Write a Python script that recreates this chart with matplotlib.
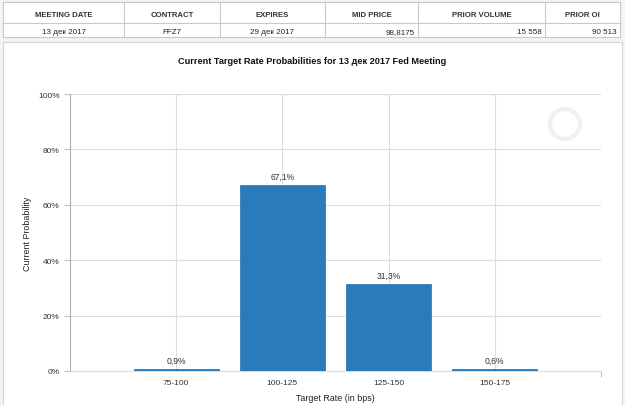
import matplotlib
matplotlib.use("Agg")
import matplotlib.pyplot as plt
from matplotlib.patches import Rectangle, Ellipse
from matplotlib.ticker import FuncFormatter

plt.rcParams['font.family'] = ['Liberation Sans', 'DejaVu Sans']

# table data
table_headers = ["MEETING DATE", "CONTRACT", "EXPIRES", "MID PRICE", "PRIOR VOLUME", "PRIOR OI"]
table_row = ["13 дек 2017", "FFZ7", "29 дек 2017", "98,8175", "15 558", "90 513"]

# chart data
rate_ranges = ["75-100", "100-125", "125-150", "150-175"]
probabilities = [0.9, 67.1, 31.3, 0.6]

W, H = 625, 406
fig = plt.figure(figsize=(W / 100, H / 100), dpi=100)
fig.patch.set_facecolor("#f3f3f3")

def fx(x):
    return x / W

def fy(y):
    return 1 - y / H

border = "#c9c9c9"

# table
col_edges = [3, 124, 220, 325, 418, 545, 620]
row_edges = [3, 24, 38]
fig.patches.append(Rectangle((fx(3), fy(38)), fx(617), 35 / H, transform=fig.transFigure,
                             facecolor="white", edgecolor="none", zorder=-2))
for y in row_edges:
    fig.add_artist(plt.Line2D([fx(3), fx(620)], [fy(y), fy(y)], color=border, lw=0.8))
for x in col_edges:
    fig.add_artist(plt.Line2D([fx(x), fx(x)], [fy(3), fy(38)], color=border, lw=0.8))
for i, h in enumerate(table_headers):
    cx = (col_edges[i] + col_edges[i + 1]) / 2
    fig.text(fx(cx), fy(17), h, ha="center", va="baseline", fontsize=5.6,
             color="#333333", fontweight="bold")
for i, v in enumerate(table_row):
    if i < 3:
        fig.text(fx((col_edges[i] + col_edges[i + 1]) / 2), fy(34), v, ha="center",
                 va="baseline", fontsize=5.8, color="#222222")
    else:
        fig.text(fx(col_edges[i + 1] - 3), fy(34), v, ha="right",
                 va="baseline", fontsize=5.8, color="#222222")

# chart panel
fig.patches.append(Rectangle((fx(3), -0.01), fx(619), fy(43) + 0.01, transform=fig.transFigure,
                             facecolor="white", edgecolor="#d6d6d6", lw=0.8, zorder=-2))

# faint watermark ring
fig.patches.append(Ellipse((fx(565), fy(125)), 30 / W, 30 / H, transform=fig.transFigure,
                           fill=False, edgecolor="#f0f0f0", lw=3, zorder=-1))

ax = fig.add_axes([fx(70), fy(372), fx(601) - fx(70), (372 - 95) / H])
ax.set_facecolor("none")
xs = list(range(len(rate_ranges)))
ax.bar(xs, probabilities, width=0.8, color="#2b7bba", edgecolor="#2670a8",
       lw=0.5, zorder=3)
for x, p in zip(xs, probabilities):
    ax.text(x, p + 1.5, f"{p:.1f}%".replace(".", ","), ha="center", va="bottom",
            fontsize=6.2, color="#333333", zorder=4)

ax.set_xlim(-1, 4)
ax.set_ylim(0, 100)
ax.set_xticks(xs)
ax.set_xticklabels(rate_ranges)
ax.set_xticks([4], minor=True)
ax.set_yticks(range(0, 101, 20))
ax.yaxis.set_major_formatter(FuncFormatter(lambda v, _: f"{v:.0f}%"))
ax.grid(True, color="#dcdcdc", lw=0.8, zorder=0)
for s in ["top", "right"]:
    ax.spines[s].set_visible(False)
ax.spines["left"].set_color("#b0b0b0")
ax.spines["bottom"].set_color("#dcdcdc")
ax.tick_params(axis="both", which="both", labelsize=6, colors="#333333", length=4,
               color="#c0c0c0", width=0.8)
ax.tick_params(axis="x", length=0, pad=6)
ax.tick_params(axis="x", which="minor", length=4)
ax.set_xlabel("Target Rate (in bps)", fontsize=6.4, color="#222222", labelpad=5)
ax.set_ylabel("Current Probability", fontsize=6.4, color="#222222", labelpad=4)

fig.text(fx(312), fy(61), "Current Target Rate Probabilities for 13 дек 2017 Fed Meeting",
         ha="center", va="center", fontsize=6.6, fontweight="bold", color="#111111")

fig.savefig("out.png", dpi=100, facecolor=fig.get_facecolor())
